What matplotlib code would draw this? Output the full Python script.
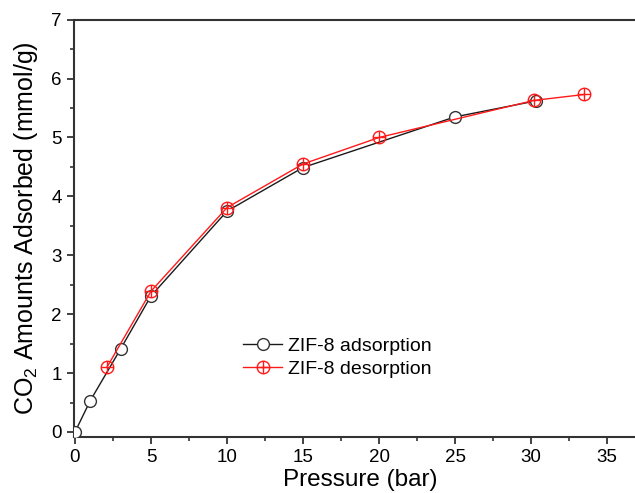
import numpy as np
import matplotlib
matplotlib.use('Agg')
import matplotlib.pyplot as plt
from matplotlib.path import Path
from matplotlib.ticker import MultipleLocator

# Data
ads_p = [0, 1, 3, 5, 10, 15, 25, 30.3]
ads_q = [0, 0.53, 1.41, 2.31, 3.75, 4.49, 5.35, 5.62]
des_p = [33.5, 30.2, 20, 15, 10, 5, 2.1]
des_q = [5.73, 5.63, 5.0, 4.55, 3.81, 2.39, 1.10]

plt.rcParams['font.family'] = ['Liberation Sans', 'DejaVu Sans']
plt.rcParams['mathtext.fontset'] = 'custom'
plt.rcParams['mathtext.rm'] = 'Liberation Sans'

# circle with a cross inside
circ = Path.unit_circle()
hline = Path([[-1, 0], [1, 0]], [Path.MOVETO, Path.LINETO])
vline = Path([[0, -1], [0, 1]], [Path.MOVETO, Path.LINETO])
oplus = Path.make_compound_path(circ, hline, vline)

W, H = 635, 493
fig = plt.figure(figsize=(W / 100, H / 100), dpi=100)
x0, x1 = -0.05, 37.6
y0, y1 = -0.085, 7.0
px_x = 15.2
px_y = 58.9
left = 75 + x0 * px_x
bottom = H - 437
ax = fig.add_axes([left / W, bottom / H, (x1 - x0) * px_x / W, (y1 - y0) * px_y / H])

ax.plot(ads_p, ads_q, color='#1a1a1a', lw=1.0, marker='o', ms=8.5,
        mfc='white', mec='#333333', mew=1.0, label='ZIF-8 adsorption', zorder=3)
ax.plot(des_p, des_q, color='#ff1a1a', lw=1.0, marker=oplus, ms=9,
        mfc='none', mec='#ff1a1a', mew=1.0, label='ZIF-8 desorption', zorder=4)

ax.set_xlim(x0, x1)
ax.set_ylim(y0, y1)
ax.xaxis.set_major_locator(MultipleLocator(5))
ax.xaxis.set_minor_locator(MultipleLocator(2.5))
ax.yaxis.set_major_locator(MultipleLocator(1))
ax.yaxis.set_minor_locator(MultipleLocator(0.5))

for s in ax.spines.values():
    s.set_linewidth(1.5)
    s.set_color('#333333')
ax.tick_params(which='major', direction='out', length=5, width=1.3, labelsize=13.5,
               color='#333333', pad=4)
ax.tick_params(which='minor', direction='out', length=3, width=1.2, color='#333333')

ax.set_xlabel('Pressure (bar)', fontsize=17.5, labelpad=2)
ax.set_ylabel('CO$_{\\mathregular{2}}$ Amounts Adsorbed (mmol/g)', fontsize=18, labelpad=8)

ax.legend(loc='center left', bbox_to_anchor=(0.265, 0.19), frameon=False, fontsize=14,
          handlelength=2.0, handletextpad=0.3, labelspacing=0.25)

fig.savefig('out.png', dpi=100)
